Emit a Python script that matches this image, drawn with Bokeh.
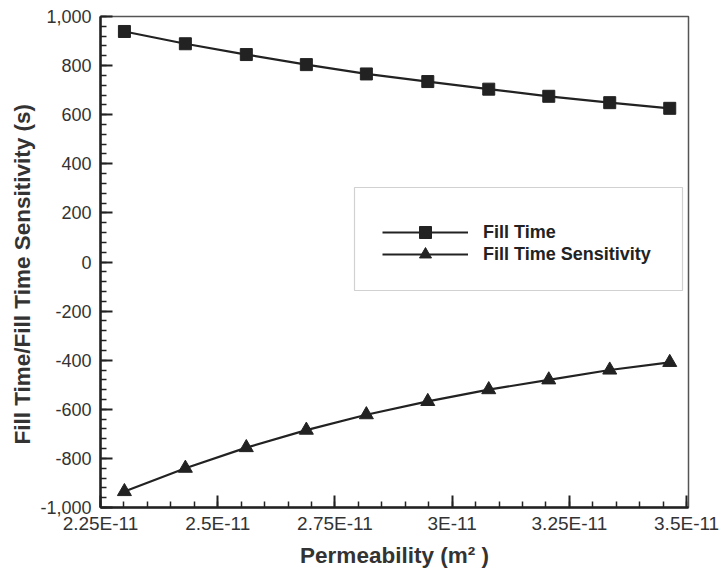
from bokeh.plotting import figure
from bokeh.models import (FixedTicker, NumeralTickFormatter, Legend, LegendItem, Range1d,
                          BoxAnnotation, Title)
from bokeh.embed import file_html
from bokeh.resources import INLINE

# ---- data ----
permeability = [2.301e-11, 2.431e-11, 2.561e-11, 2.689e-11, 2.817e-11,
                2.948e-11, 3.078e-11, 3.206e-11, 3.336e-11, 3.464e-11]
fill_time = [939, 889, 845, 804, 766, 735, 704, 675, 649, 626]
fill_time_sensitivity = [-935, -840, -756, -685, -622, -568, -520, -480, -440, -409]

x_major_ticks = [2.25e-11, 2.5e-11, 2.75e-11, 3.0e-11, 3.25e-11, 3.5e-11]
x_tick_labels = ["2.25E-11", "2.5E-11", "2.75E-11", "3E-11", "3.25E-11", "3.5E-11"]
x_minor_ticks = [2.25e-11 + i * 0.05e-11 for i in range(26)]
y_major_ticks = list(range(-1000, 1001, 200))
y_minor_ticks = list(range(-1000, 1001, 40))

x_title = "Permeability (m\u00b2 )"
y_title = "Fill Time/Fill Time Sensitivity (s)"
series_names = ["Fill Time", "Fill Time Sensitivity"]

FONT = "Liberation Sans"
INK = "#222222"
TXT = "#333333"

p = figure(width=725, height=571, output_backend="svg", toolbar_location=None,
           x_range=Range1d(2.25e-11, 3.504e-11), y_range=Range1d(-1000, 1000),
           min_border_left=100, min_border_right=37, min_border_top=16, min_border_bottom=64)
p.grid.visible = False
p.background_fill_color = "white"
p.border_fill_color = "white"
p.outline_line_color = "#555555"
p.outline_line_width = 1.5

# axes
p.xaxis.ticker = FixedTicker(ticks=x_major_ticks, minor_ticks=x_minor_ticks)
p.xaxis.major_label_overrides = dict(zip(x_major_ticks, x_tick_labels))
p.yaxis.ticker = FixedTicker(ticks=y_major_ticks, minor_ticks=y_minor_ticks)
p.yaxis.formatter = NumeralTickFormatter(format="0,0")

p.xaxis.axis_label = x_title
for ax in (p.xaxis, p.yaxis):
    ax.axis_line_color = INK
    ax.axis_line_width = 2.5
    ax.major_tick_in = 12
    ax.major_tick_out = 0
    ax.minor_tick_in = 6
    ax.minor_tick_out = 0
    ax.major_tick_line_color = INK
    ax.major_tick_line_width = 2
    ax.minor_tick_line_color = INK
    ax.minor_tick_line_width = 1.5
    ax.major_label_text_font = FONT
    ax.major_label_text_color = TXT
    ax.axis_label_text_font = FONT
    ax.axis_label_text_font_size = "22.5px"
    ax.axis_label_text_font_style = "bold"
    ax.axis_label_text_color = TXT
    ax.axis_label_standoff = 6
p.xaxis.major_label_text_font_size = "19px"
p.yaxis.major_label_text_font_size = "18px"
p.xaxis.major_label_standoff = 5
p.yaxis.major_label_standoff = 9

# y-axis title (as a left-side title, shifted slightly below the frame centre as in the reference)
p.add_layout(Title(text=y_title, align="left", offset=63, standoff=6,
                   text_font=FONT, text_font_size="22.5px", text_font_style="bold",
                   text_color=TXT), "left")

# series
l1 = p.line(permeability, fill_time, line_color=INK, line_width=2.2)
m1 = p.scatter(permeability, fill_time, marker="square", size=12,
               fill_color=INK, line_color=INK)
l2 = p.line(permeability, fill_time_sensitivity, line_color=INK, line_width=2.2)
m2 = p.scatter(permeability, fill_time_sensitivity, marker="triangle", size=14,
               fill_color=INK, line_color=INK)

# legend frame
p.add_layout(BoxAnnotation(left=254, right=582, bottom=217, top=320,
                           left_units="screen", right_units="screen",
                           bottom_units="screen", top_units="screen",
                           fill_color="white", fill_alpha=1.0,
                           line_color="#666666", line_width=1.2))

legend_style = dict(padding=0, spacing=0, glyph_width=86, glyph_height=30, label_height=22,
                    label_standoff=15, label_text_font=FONT, label_text_font_size="18px",
                    label_text_font_style="bold", label_text_color=INK,
                    border_line_color=None, background_fill_alpha=0.0)
p.add_layout(Legend(items=[LegendItem(label=series_names[0], renderers=[l1, m1])],
                    location=(282, 260), **legend_style))
p.add_layout(Legend(items=[LegendItem(label=series_names[1], renderers=[l2, m2])],
                    location=(282, 238), **legend_style))

open("out.html", "w").write(file_html(p, INLINE))
